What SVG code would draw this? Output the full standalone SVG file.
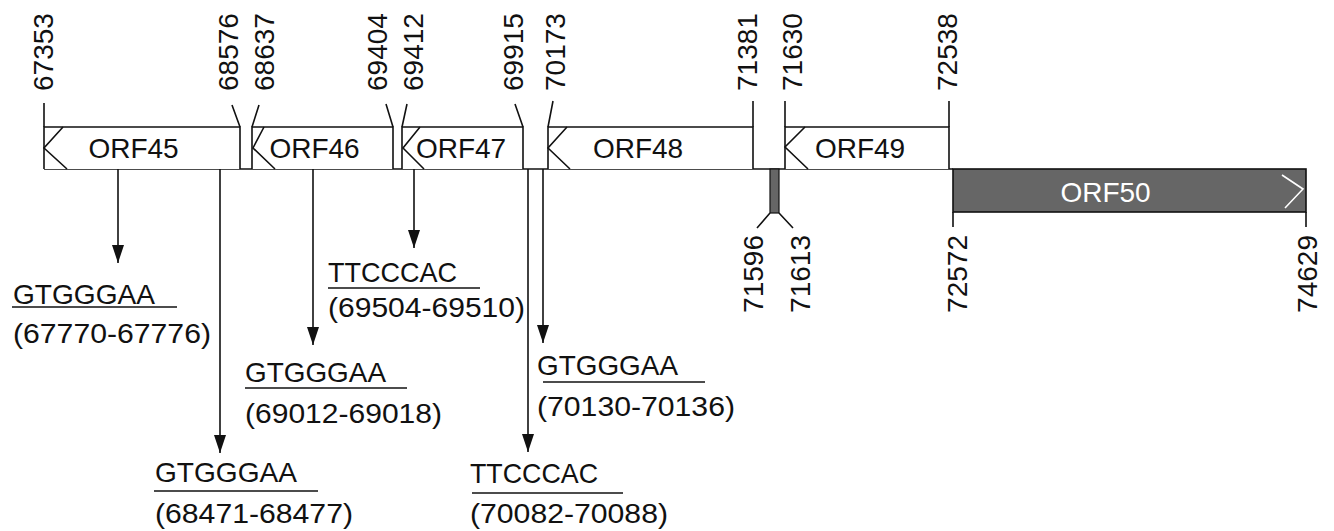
<svg xmlns="http://www.w3.org/2000/svg" width="1334" height="531" viewBox="0 0 1334 531">
<defs>
<style>
.ln{fill:none;stroke:#111;stroke-width:1.6}
.box{fill:#fff;stroke:#111;stroke-width:1.6}
.t{font-family:"Liberation Sans",Arial,sans-serif;font-size:28px;fill:#111}
.lbl{text-anchor:middle}
.num{font-family:"Liberation Sans",Arial,sans-serif;font-size:28px;fill:#111}
.ul{stroke:#111;stroke-width:1.6}
</style>
<marker id="ah" markerUnits="userSpaceOnUse" markerWidth="20" markerHeight="12" viewBox="0 0 20 12" refX="18" refY="6" orient="auto">
<path d="M0,0 L18,6 L0,12 Z" fill="#111"/>
</marker>
</defs>
<rect width="1334" height="531" fill="#fff"/>

<g id="backbone">
<line class="ln" x1="44" y1="169" x2="953" y2="169"/>
</g>

<g id="orf45">
<path class="box" d="M44,169 L44,127 L240,127 L240,169"/>
<path class="ln" d="M63,127 L44,148 L67,169"/>
<text class="t lbl" x="133.5" y="158">ORF45</text>
</g>
<g id="orf46">
<path class="box" d="M252,169 L252,127 L393,127 L393,169"/>
<path class="ln" d="M264,127 L253,148 L275,169"/>
<text class="t lbl" x="314.5" y="158">ORF46</text>
</g>
<g id="orf47">
<path class="box" d="M402,169 L402,127 L523,127 L523,169"/>
<path class="ln" d="M420,127 L403,148 L424,169"/>
<text class="t lbl" x="461" y="158">ORF47</text>
</g>
<g id="orf48">
<path class="box" d="M548,169 L548,127 L753,127 L753,169"/>
<path class="ln" d="M567,127 L548,148 L570,169"/>
<text class="t lbl" x="638" y="158">ORF48</text>
</g>
<g id="orf49">
<path class="box" d="M785,169 L785,127 L949,127 L949,169"/>
<path class="ln" d="M805,127 L785,147 L808,169"/>
<text class="t lbl" x="860" y="158">ORF49</text>
</g>
<g id="orf50">
<rect x="953" y="169" width="353" height="43" fill="#666" stroke="#111" stroke-width="1.6"/>
<path d="M1282,175 L1303,189 L1285,208" fill="none" stroke="#fff" stroke-width="1.6"/>
<text class="t lbl" x="1105.5" y="202" style="fill:#fff">ORF50</text>
</g>
<g id="element-71596-71613">
<rect x="770" y="169" width="9" height="44" fill="#666" stroke="#111" stroke-width="1.2"/>
<path class="ln" d="M770,213 L757,228 M779,213 L793,228"/>
</g>

<g id="ticks">
<path class="ln" d="M44,103 L44,127 M232,105 L240,127 M259,105 L252,127 M386,104 L393,127 M407,104 L402,127 M515,104 L523,127 M553,101 L548,127 M753,101 L753,127 M785,101 L785,127 M949,101 L949,127 M953,212 L953,227 M1306,212 L1306,227"/>
</g>

<g id="coords">
<text class="num" transform="translate(53,91) rotate(-90)">67353</text>
<text class="num" transform="translate(238,91) rotate(-90)">68576</text>
<text class="num" transform="translate(274,91) rotate(-90)">68637</text>
<text class="num" transform="translate(387,91) rotate(-90)">69404</text>
<text class="num" transform="translate(423,91) rotate(-90)">69412</text>
<text class="num" transform="translate(523,91) rotate(-90)">69915</text>
<text class="num" transform="translate(565,91) rotate(-90)">70173</text>
<text class="num" transform="translate(757,91) rotate(-90)">71381</text>
<text class="num" transform="translate(802,91) rotate(-90)">71630</text>
<text class="num" transform="translate(957,91) rotate(-90)">72538</text>
<text class="num" text-anchor="end" transform="translate(763,235) rotate(-90)">71596</text>
<text class="num" text-anchor="end" transform="translate(810,235) rotate(-90)">71613</text>
<text class="num" text-anchor="end" transform="translate(967,235) rotate(-90)">72572</text>
<text class="num" text-anchor="end" transform="translate(1317,235) rotate(-90)">74629</text>
</g>

<g id="connectors">
<line class="ln" x1="118" y1="169" x2="118" y2="263" marker-end="url(#ah)"/>
<line class="ln" x1="220" y1="169" x2="220" y2="453" marker-end="url(#ah)"/>
<line class="ln" x1="313" y1="169" x2="313" y2="345" marker-end="url(#ah)"/>
<line class="ln" x1="414" y1="169" x2="414" y2="248" marker-end="url(#ah)"/>
<line class="ln" x1="528" y1="169" x2="528" y2="452" marker-end="url(#ah)"/>
<line class="ln" x1="543" y1="169" x2="543" y2="343" marker-end="url(#ah)"/>
</g>

<g id="site-67770">
<text class="t" x="13" y="304" textLength="142" lengthAdjust="spacingAndGlyphs">GTGGGAA</text>
<line class="ul" x1="12" y1="307" x2="177" y2="307"/>
<text class="t" x="13" y="343" textLength="198" lengthAdjust="spacingAndGlyphs">(67770-67776)</text>
</g>
<g id="site-68471">
<text class="t" x="155" y="482" textLength="142" lengthAdjust="spacingAndGlyphs">GTGGGAA</text>
<line class="ul" x1="154" y1="491" x2="318" y2="491"/>
<text class="t" x="155" y="523" textLength="198" lengthAdjust="spacingAndGlyphs">(68471-68477)</text>
</g>
<g id="site-69012">
<text class="t" x="245" y="382" textLength="141" lengthAdjust="spacingAndGlyphs">GTGGGAA</text>
<line class="ul" x1="245" y1="388" x2="407" y2="388"/>
<text class="t" x="245" y="423" textLength="197" lengthAdjust="spacingAndGlyphs">(69012-69018)</text>
</g>
<g id="site-69504">
<text class="t" x="328" y="282" textLength="129" lengthAdjust="spacingAndGlyphs">TTCCCAC</text>
<line class="ul" x1="328" y1="288" x2="480" y2="288"/>
<text class="t" x="328" y="317" textLength="197" lengthAdjust="spacingAndGlyphs">(69504-69510)</text>
</g>
<g id="site-70082">
<text class="t" x="470" y="483" textLength="128" lengthAdjust="spacingAndGlyphs">TTCCCAC</text>
<line class="ul" x1="472" y1="493" x2="623" y2="493"/>
<text class="t" x="470" y="523" textLength="198" lengthAdjust="spacingAndGlyphs">(70082-70088)</text>
</g>
<g id="site-70130">
<text class="t" x="537" y="375" textLength="141" lengthAdjust="spacingAndGlyphs">GTGGGAA</text>
<line class="ul" x1="543" y1="382" x2="705" y2="382"/>
<text class="t" x="537" y="416" textLength="198" lengthAdjust="spacingAndGlyphs">(70130-70136)</text>
</g>
</svg>
